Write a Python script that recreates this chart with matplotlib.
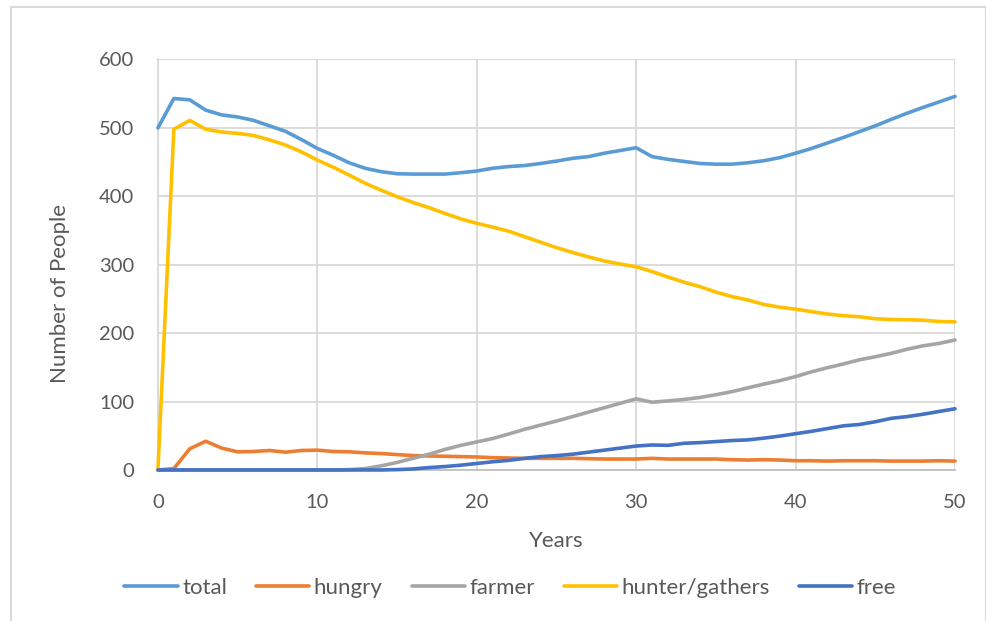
import numpy as np
import matplotlib.pyplot as plt
from matplotlib.patches import Rectangle

plt.rcParams['font.family'] = ['Lato', 'DejaVu Sans']

years = np.arange(0, 51)

total = [500, 543, 541, 526, 519, 516, 511, 503, 495, 483,
         470, 460, 449, 441, 436, 433, 432.5, 432.5, 432.5, 434.5,
         437, 441, 443.5, 445, 448, 451.5, 455.5, 458, 463, 467,
         471, 458, 454, 451, 448, 447, 447, 449, 452, 456.5,
         463, 470, 478, 486, 494.5, 503, 512.5, 521.5, 530, 538,
         546]
hungry = [0, 2, 31, 42, 32, 26.5, 27, 28.5, 26, 28.5,
          29, 27, 26.5, 25, 24, 22.5, 21, 20.5, 20, 19.5,
          19, 18, 17.5, 17, 17, 17, 17, 16.5, 16, 16,
          16, 17, 16, 16, 16, 16, 15, 14.5, 15, 14.5,
          13.5, 13.5, 13, 13.5, 13.5, 13.5, 13, 13, 13, 13.5,
          13]
farmer = [0, 0, 0, 0, 0, 0, 0, 0, 0, 0,
          0, 0, 0.5, 2, 6, 11, 17, 23, 30, 36,
          41, 46, 52.5, 59.5, 65.5, 71.5, 78, 84.5, 91, 97.5,
          104, 99, 101, 103, 106, 110, 114.5, 120, 125.5, 130.5,
          136.5, 143.5, 149.5, 155, 161, 165.5, 170.5, 176.5, 181.5, 185,
          190]
hunters = [0, 498, 511, 498, 494, 492, 489, 482.5, 475, 465,
           453, 442.5, 431, 419, 409, 399.5, 391, 383.5, 375, 367,
           360.5, 355, 349, 341, 333, 325, 318, 311.5, 305.5, 301,
           297, 290, 282, 274.5, 268, 260, 253.5, 248.5, 242, 238,
           235, 231.5, 228, 225.5, 224, 221, 220, 219.5, 219, 217,
           216.5]
free = [0, 0, 0, 0, 0, 0, 0, 0, 0, 0,
        0, 0, 0, 0, 0, 0.5, 1.5, 3.5, 5, 7,
        9.5, 12, 14, 17, 19.5, 21, 23, 26, 29, 32,
        35, 36.5, 36, 39, 40, 41.5, 43, 44, 46.5, 49.5,
        53, 56.5, 60.5, 64.5, 66.5, 70.5, 75.5, 78, 81.5, 85.5,
        89.5]

series = [
    ('total', total, '#5B9BD5'),
    ('hungry', hungry, '#ED7D31'),
    ('farmer', farmer, '#A5A5A5'),
    ('hunter/gathers', hunters, '#FFC000'),
    ('free', free, '#4472C4'),
]

fig = plt.figure(figsize=(9.87, 6.21), dpi=100)
ax = fig.add_axes([0.160, 0.2432, 0.8076, 0.6610])

for name, vals, col in series:
    ax.plot(years, vals, color=col, lw=2.6, label=name, zorder=3,
            solid_joinstyle='round', solid_capstyle='round', clip_on=False)

ax.set_xlim(0, 50)
ax.set_ylim(0, 600)
ax.set_xticks(range(0, 51, 10))
ax.set_yticks(range(0, 601, 100))
ax.grid(True, color='#d9d9d9', lw=1.3)
ax.set_axisbelow(True)
for s in ['top', 'right']:
    ax.spines[s].set_visible(False)
ax.spines['left'].set_color('#d9d9d9')
ax.spines['left'].set_linewidth(1.3)
ax.spines['bottom'].set_color('#bfbfbf')
ax.spines['bottom'].set_linewidth(1.3)
ax.tick_params(length=0, labelsize=14.5, labelcolor='#595959')
ax.tick_params(axis='y', pad=17)
ax.tick_params(axis='x', pad=17)

ax.set_xlabel('Years', fontsize=16, color='#595959')
ax.set_ylabel('Number of People', fontsize=16, color='#595959')
ax.xaxis.set_label_coords(0.5, -0.173)
ax.xaxis.label.set_va('center')
ax.yaxis.set_label_coords(-0.123, 0.43)
ax.yaxis.label.set_va('center')

fig.legend(loc='center', bbox_to_anchor=(0.517, 0.053), ncol=5, frameon=False,
           fontsize=16, labelcolor='#595959', handlelength=2.4,
           handletextpad=0.2, columnspacing=1.3)

# chart frame
fig.patches.append(Rectangle((11 / 987, -0.1), 975 / 987, 1.1 - 7 / 621,
                             transform=fig.transFigure, fill=False,
                             edgecolor='#d9d9d9', lw=1.5))

fig.savefig('out.png', dpi=100)
